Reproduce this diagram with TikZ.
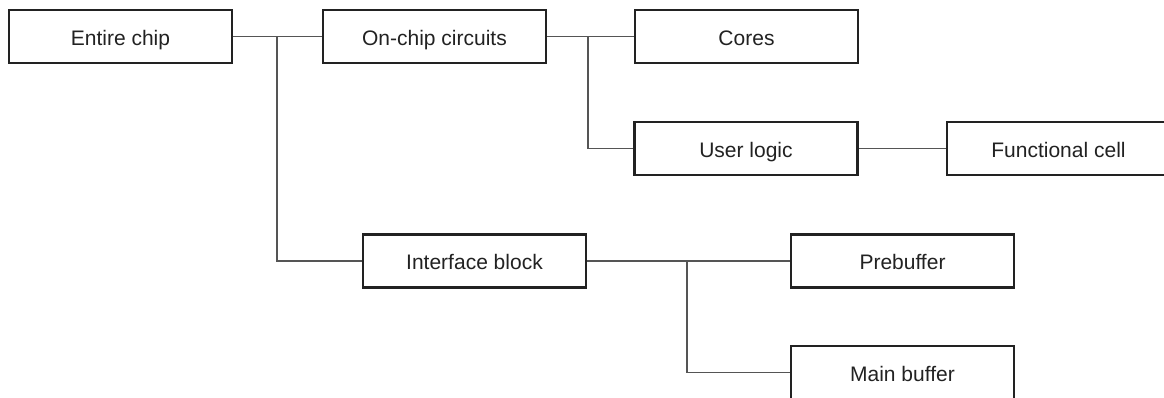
\documentclass[tikz,border=0pt]{standalone}
\usepackage{fontspec}
\setmainfont{Liberation Sans}
\definecolor{boxline}{HTML}{222222}
\definecolor{wire}{HTML}{555555}
\definecolor{txt}{HTML}{222222}
\begin{document}
\begin{tikzpicture}[x=0.5pt,y=-0.5pt,
  blk/.style={draw=boxline,line width=1.3pt,minimum width=111.5pt,minimum height=26.5pt,inner sep=0pt,text height=8.5pt,text depth=0pt,text=txt,font=\fontsize{10.5pt}{12pt}\selectfont,fill=white},
  wire/.style={draw=wire,line width=0.55pt}]
\clip (0,0) rectangle (1164,397);
\node[blk] (E) at (120.5,36.5) {Entire chip};
\node[blk] (O) at (434.5,36.5) {On-chip circuits};
\node[blk] (C) at (746.5,36.5) {Cores};
\node[blk] (U) at (746,148.5) {User logic};
\node[blk] (F) at (1058.5,148.5) {Functional cell};
\node[blk] (I) at (474.5,261) {Interface block};
\node[blk] (P) at (902.5,261) {Prebuffer};
\node[blk] (M) at (902.5,372.5) {Main buffer};
\coordinate (j1) at (277,36.5);
\coordinate (j2) at (588,36.5);
\coordinate (j3) at (687,261);
\draw[wire] (E.east) -- (O.west);
\draw[wire] (j1) |- (I.west);
\draw[wire] (O.east) -- (C.west);
\draw[wire] (j2) |- (U.west);
\draw[wire] (U.east) -- (F.west);
\draw[wire] (I.east) -- (P.west);
\draw[wire] (j3) |- (M.west);
\end{tikzpicture}
\end{document}
